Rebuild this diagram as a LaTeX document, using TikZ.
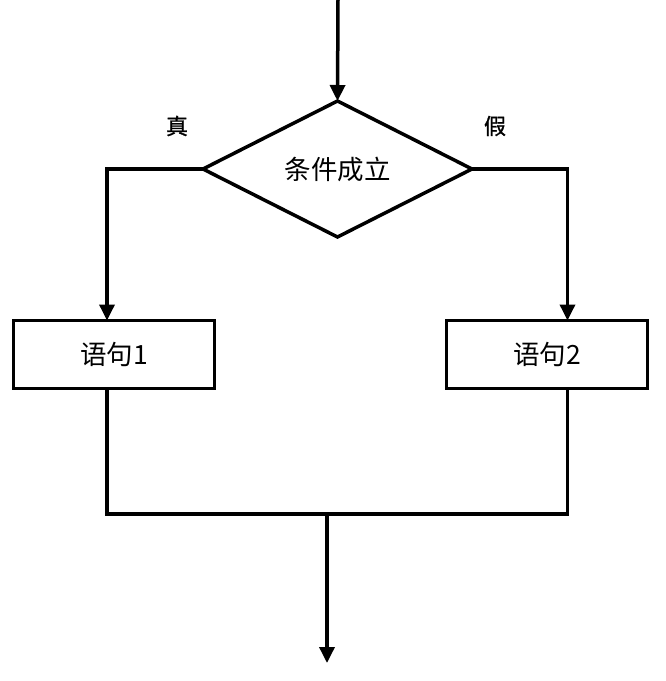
\documentclass[tikz,border=0pt]{standalone}
\usepackage{fontspec}
\setmainfont{Noto Sans CJK SC}
\newfontfamily\tagfont[FakeBold=1.2]{Noto Sans CJK SC}
\usetikzlibrary{arrows.meta,shapes.geometric}

\begin{document}
\begin{tikzpicture}[x=1pt,y=-1pt,line width=3.5pt,
    arr/.style={-{Triangle[length=16pt,width=15pt]}},
    cond/.style={diamond,draw,minimum width=269pt,minimum height=136pt,inner sep=0pt,outer sep=0pt,font=\fontsize{26.5}{30}\selectfont},
    stmt/.style={rectangle,draw,minimum width=201pt,minimum height=68pt,inner sep=0pt,outer sep=0pt,font=\fontsize{26.5}{30}\selectfont},
    tag/.style={font=\tagfont\fontsize{22}{26}\selectfont}]
    \useasboundingbox (0,0) rectangle (666,681);
    \coordinate (entry) at (338,0);
    \node[cond] (test) at (337.5,169) {条件成立};
    \node[stmt] (body1) at (114,354.5) {语句1};
    \node[stmt] (body2) at (547,354.5) {语句2};
    \node[tag] (yes) at (177,126) {真};
    \node[tag] (no) at (495,126) {假};
    \coordinate (merge) at (327,514);
    \coordinate (exit) at (327,663);
    \draw[arr] (entry) -- (test.north);
    \draw[arr] (test.west) -| ([xshift=-7pt]body1.north);
    \draw[arr] (test.east) -| ([xshift=20.5pt]body2.north);
    \draw ([xshift=-7pt]body1.south) |- (merge) -| ([xshift=20.5pt]body2.south);
    \draw[arr] (merge) -- (exit);
\end{tikzpicture}
\end{document}
